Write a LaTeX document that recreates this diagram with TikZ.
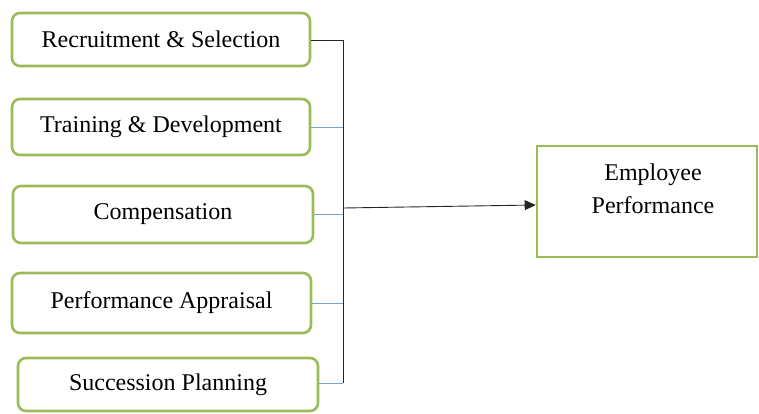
\documentclass[tikz,border=0pt]{standalone}
\usepackage{fontspec}
\setmainfont{Liberation Serif}
\usetikzlibrary{arrows.meta}
\definecolor{boxgreen}{HTML}{9BBB59}
\definecolor{linkblue}{HTML}{7FA3C8}
\begin{document}
\begin{tikzpicture}[x=1pt,y=-1pt,
  factor/.style={draw=boxgreen,line width=2.6pt,rounded corners=8pt,fill=white,inner sep=0pt,font=\fontsize{24}{28}\selectfont},
  outbox/.style={draw=boxgreen,line width=2.6pt,fill=white,inner sep=0pt},
  link/.style={draw=linkblue,line width=0.8pt},
  trunk/.style={draw=black!85,line width=0.9pt}]
\useasboundingbox (0,0) rectangle (759,414);
\node[factor,minimum width=298pt,minimum height=53pt] (f1) at (161,39.5) {Recruitment \& Selection};
\node[factor,minimum width=298pt,minimum height=56pt] (f2) at (161,127) {Training \& Development};
\node[factor,minimum width=300pt,minimum height=57pt] (f3) at (163,214.5) {Compensation};
\node[factor,minimum width=299pt,minimum height=60pt] (f4) at (161.5,303) {Performance Appraisal};
\node[factor,minimum width=300pt,minimum height=53pt] (f5) at (168,384.5) {Succession Planning};
\node[outbox,minimum width=220pt,minimum height=111pt] (ep) at (647,201.5) {};
\node[font=\fontsize{24}{33}\selectfont,align=center,inner sep=0pt] (eptext) at (653,189) {Employee\\Performance};
\coordinate (top) at (343,40);
\coordinate (bot) at (343,383);
\coordinate (mid) at (343,208);
\draw[trunk] (f1.east |- top) -- (top) -- (bot);
\draw[link] (f2.east) -- (f2.east -| top);
\draw[link] (f3.east) -- (f3.east -| top);
\draw[link] (f4.east) -- (f4.east -| top);
\draw[link] (f5.east |- bot) -- (bot);
\draw[trunk,-{Triangle[length=11pt,width=10pt]}] (mid) -- (ep.west |- 0,205);
\end{tikzpicture}
\end{document}
